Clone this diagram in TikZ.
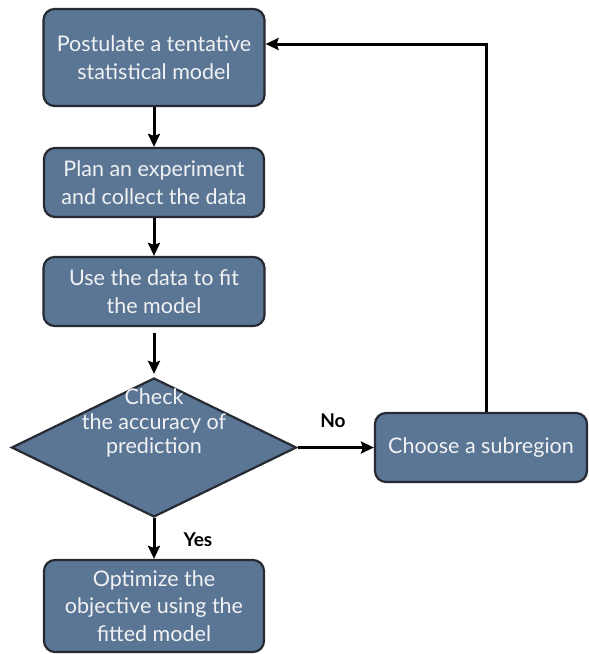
\documentclass[tikz,border=0pt]{standalone}
\usepackage{fontspec}
\setmainfont{Lato}
\usetikzlibrary{shapes.geometric,arrows.meta}
\definecolor{boxfill}{HTML}{5B7594}
\definecolor{boxline}{HTML}{262A33}
\definecolor{boxtext}{HTML}{F0F2F4}
\begin{document}
\begin{tikzpicture}[x=1pt,y=-1pt,
  stepbox/.style={draw=boxline,line width=2.2pt,fill=boxfill,rounded corners=11pt,
    text=boxtext,align=center,font=\fontsize{21.5}{27.5}\selectfont,inner sep=0pt},
  dia/.style={draw=boxline,line width=2.2pt,fill=boxfill,diamond,inner sep=0pt},
  diatext/.style={text=boxtext,align=center,font=\fontsize{21.5}{24.5}\selectfont,inner sep=0pt},
  lab/.style={font=\bfseries\fontsize{19}{22}\selectfont,inner sep=0pt},
  arr/.style={line width=3pt,-{Stealth[length=13pt,width=12pt,inset=2pt]}}]
\useasboundingbox[fill=white] (0,0) rectangle (589,654);
\node[stepbox,minimum width=221pt,minimum height=97pt] (b1) at (154,57.5) {Postulate a tentative\\statistical model};
\node[stepbox,minimum width=220pt,minimum height=69pt] (b2) at (154,182.5) {Plan an experiment\\and collect the data};
\node[stepbox,minimum width=221pt,minimum height=69pt] (b3) at (154,291.5) {Use the data to fit\\the model};
\node[dia,minimum width=285pt,minimum height=139pt] (d) at (154,447.5) {};
\node[diatext] (dt) at (154,423) {Check\\the accuracy of\\prediction};
\node[stepbox,minimum width=212pt,minimum height=69pt] (c) at (481,447.5) {Choose a subregion};
\node[stepbox,minimum width=220pt,minimum height=92pt] (b5) at (154,606) {Optimize the\\objective using the\\fitted model};
\node[lab] (no) at (333,421) {No};
\node[lab] (yes) at (198,540) {Yes};
\coordinate (fb) at (486,44);
\draw[arr] (b1.south) -- (b2.north);
\draw[arr] (b2.south) -- (b3.north);
\draw[arr,shorten <=6pt,shorten >=3pt] (b3.south) -- (d.north);
\draw[arr] (d.south) -- (b5.north);
\draw[arr] (d.east) -- (c.west);
\draw[arr] (c.north -| fb) -- (fb) -- (b1.east |- fb);
\end{tikzpicture}
\end{document}
